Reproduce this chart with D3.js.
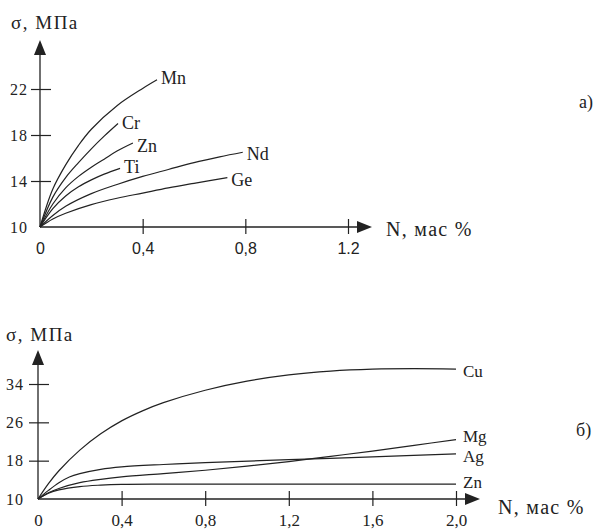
<!DOCTYPE html>
<html>
<head>
<meta charset="utf-8">
<script src="https://cdn.jsdelivr.net/npm/d3@7"></script>
<style>
  body { margin: 0; background: #fff; }
  svg { display: block; }
</style>
</head>
<body>
<svg width="597" height="531"></svg>
<script>
// top panel (а)
const topXTicks = [0, 0.4, 0.8, 1.2];
const topXTickLabels = ["0", "0,4", "0,8", "1.2"];
const topYTicks = [10, 14, 18, 22];
const topNames = ["Mn", "Cr", "Zn", "Ti", "Nd", "Ge"];
const topMn = [[0, 10], [0.05, 13.3], [0.1, 15.4], [0.15, 17.1], [0.2, 18.5], [0.3, 20.55], [0.4, 22.05], [0.456, 22.8]];
const topCr = [[0, 10], [0.05, 12.6], [0.1, 14.3], [0.15, 15.6], [0.2, 16.8], [0.25, 17.9], [0.304, 19.0]];
const topZn = [[0, 10], [0.05, 12.0], [0.1, 13.4], [0.15, 14.4], [0.2, 15.2], [0.25, 15.9], [0.3, 16.6], [0.362, 17.3]];
const topTi = [[0, 10], [0.05, 11.6], [0.1, 12.7], [0.15, 13.5], [0.2, 14.1], [0.25, 14.6], [0.312, 15.1]];
const topNd = [[0, 10], [0.05, 11.0], [0.1, 11.8], [0.2, 12.9], [0.3, 13.7], [0.4, 14.4], [0.5, 15.0], [0.6, 15.6], [0.7, 16.1], [0.79, 16.5]];
const topGe = [[0, 10], [0.05, 10.7], [0.1, 11.2], [0.2, 11.95], [0.3, 12.5], [0.4, 12.95], [0.5, 13.4], [0.6, 13.8], [0.73, 14.3]];

// bottom panel (б)
const botXTicks = [0, 0.4, 0.8, 1.2, 1.6, 2.0];
const botXTickLabels = ["0", "0,4", "0,8", "1,2", "1,6", "2,0"];
const botYTicks = [10, 18, 26, 34];
const botNames = ["Cu", "Mg", "Ag", "Zn"];
const botCu = [[0, 10], [0.05, 13.2], [0.1, 15.9], [0.2, 20.2], [0.3, 23.6], [0.4, 26.3], [0.5, 28.4], [0.6, 30.1], [0.8, 32.7], [1.0, 34.6], [1.2, 35.9], [1.4, 36.7], [1.6, 37.1], [1.8, 37.2], [2.0, 37.1]];
const botMg = [[0, 10], [0.05, 11.3], [0.1, 12.2], [0.2, 13.4], [0.3, 14.1], [0.4, 14.6], [0.6, 15.3], [0.8, 16.0], [1.0, 16.85], [1.2, 17.8], [1.4, 18.9], [1.6, 20.0], [1.8, 21.2], [2.0, 22.4]];
const botAg = [[0, 10], [0.05, 11.8], [0.1, 13.4], [0.15, 14.6], [0.2, 15.3], [0.3, 16.2], [0.4, 16.7], [0.6, 17.2], [0.8, 17.6], [1.2, 18.2], [1.6, 18.8], [2.0, 19.4]];
const botZn = [[0, 10], [0.05, 11.2], [0.1, 11.9], [0.2, 12.6], [0.3, 12.9], [0.4, 13.05], [0.6, 13.1], [1.2, 13.1], [2.0, 13.1]];

const svg = d3.select("svg");
const ink = "#222";
const serif = '"Liberation Serif", "DejaVu Serif", serif';
const sans = '"Liberation Sans", Arial, sans-serif';

function label(g, x, y, size, txt, spacing) {
    return g.append("text").attr("x", x).attr("y", y)
        .style("font-family", serif).style("font-size", size + "px")
        .style("letter-spacing", (spacing || 0) + "px").style("fill", ink)
        .text(txt);
}

function drawPanel(opt) {
    const g = svg.append("g");
    const x = opt.x, y = opt.y;
    const x0 = x(0), y0 = y(10);

    // axis lines with arrows
    g.append("line").attr("x1", x0).attr("y1", y0).attr("x2", x0).attr("y2", opt.yTip + 8)
        .attr("stroke", ink).attr("stroke-width", 1.3);
    g.append("path").attr("d", `M${x0},${opt.yTip} L${x0 - 6},${opt.yTip + 15} L${x0 + 6},${opt.yTip + 15} Z`).attr("fill", ink);
    g.append("line").attr("x1", x0).attr("y1", y0).attr("x2", opt.xTip - 8).attr("y2", y0)
        .attr("stroke", ink).attr("stroke-width", 1.3);
    g.append("path").attr("d", `M${opt.xTip},${y0} L${opt.xTip - 15},${y0 - 6} L${opt.xTip - 15},${y0 + 6} Z`).attr("fill", ink);

    // x axis
    const gx = g.append("g").attr("transform", `translate(0,${y0})`)
        .call(d3.axisBottom(x).tickValues(opt.xTicks).tickFormat((d, i) => opt.xTickLabels[i]).tickSize(7).tickPadding(opt.xPad));
    gx.select(".domain").remove();
    gx.selectAll(".tick line").attr("y1", -8).attr("y2", 7).attr("stroke", ink).attr("stroke-width", 1.2)
        .filter(d => d === 0).remove();
    gx.selectAll(".tick text").style("font-family", opt.xFont).style("font-size", opt.xFontSize + "px").style("fill", ink);

    // y axis
    const gy = g.append("g").attr("transform", `translate(${x0},0)`)
        .call(d3.axisLeft(y).tickValues(opt.yTicks).tickSize(9).tickPadding(opt.yPad));
    gy.select(".domain").remove();
    gy.selectAll(".tick line").attr("x1", -9).attr("x2", 11).attr("stroke", ink).attr("stroke-width", 1.2)
        .filter(d => d === 10).remove();
    gy.selectAll(".tick text").style("font-family", serif).style("font-size", opt.yFontSize + "px")
        .style("letter-spacing", "1px").style("fill", ink);

    // curves
    const line = d3.line().x(d => x(d[0])).y(d => y(d[1])).curve(d3.curveCatmullRom.alpha(0.5));
    opt.series.forEach((s, i) => {
        g.append("path").attr("d", line(s)).attr("fill", "none").attr("stroke", ink).attr("stroke-width", 1.2);
        const end = s[s.length - 1];
        label(g, x(end[0]) + opt.labelDx, y(end[1]) + opt.labelDy[i], opt.labelSize, opt.names[i]);
    });

    // titles
    label(g, opt.yTitle[0], opt.yTitle[1], 19, "σ, МПа", 1.5);
    label(g, opt.xTitle[0], opt.xTitle[1], 20, "N, мас %", 1.3);
    label(g, opt.tag[0], opt.tag[1], 18, opt.tagText);
}

drawPanel({
    x: d3.scaleLinear().domain([0, 1.2]).range([40, 348]),
    y: d3.scaleLinear().domain([10, 22]).range([227, 89]),
    xTip: 372, yTip: 40,
    xTicks: topXTicks, xTickLabels: topXTickLabels, yTicks: topYTicks,
    xFont: sans, xFontSize: 16, xPad: 9, yPad: 3, yFontSize: 16,
    series: [topMn, topCr, topZn, topTi, topNd, topGe], names: topNames,
    labelSize: 18, labelDx: 4, labelDy: [4, 5, 9, 5, 8, 8],
    yTitle: [11, 29], xTitle: [386, 236], tag: [579, 108], tagText: "а)"
});

drawPanel({
    x: d3.scaleLinear().domain([0, 2]).range([38, 456]),
    y: d3.scaleLinear().domain([10, 34]).range([499, 384]),
    xTip: 480, yTip: 350,
    xTicks: botXTicks, xTickLabels: botXTickLabels, yTicks: botYTicks,
    xFont: serif, xFontSize: 17, xPad: 8, yPad: 5, yFontSize: 16,
    series: [botCu, botMg, botAg, botZn], names: botNames,
    labelSize: 17, labelDx: 7, labelDy: [8, 2, 8, 4],
    yTitle: [6, 341], xTitle: [498, 514], tag: [576, 436], tagText: "б)"
});
</script>
</body>
</html>
